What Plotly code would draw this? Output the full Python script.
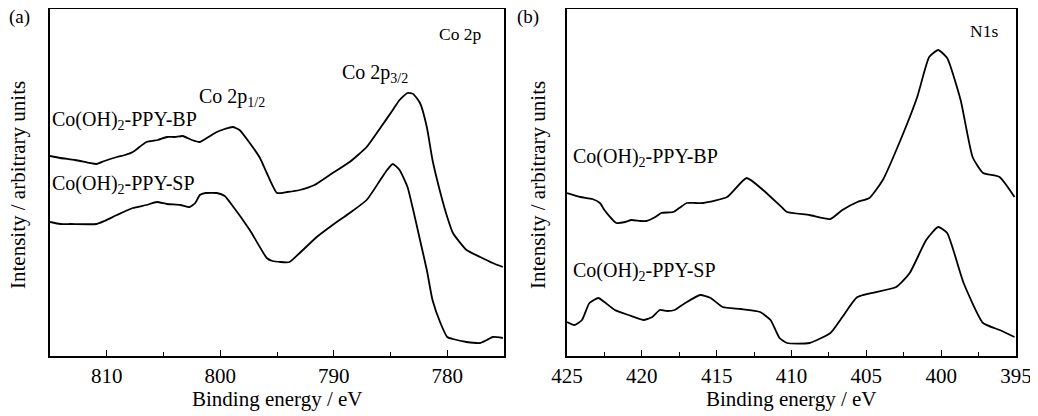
import plotly.graph_objects as go

# ---- data (binding energy in eV, intensity in arbitrary units) ----
co_energy_bp = [815.0, 814.1, 812.8, 811.5, 810.9, 810.2, 809.1, 808.4, 807.7, 806.5, 805.5, 804.7, 804.0,
                803.3, 802.5, 801.8, 800.9, 800.3, 799.6, 798.9, 798.3, 797.4, 796.5, 795.9, 795.0, 794.1,
                793.0, 791.7, 790.1, 788.6, 787.1, 785.9, 784.8, 784.2, 783.5, 783.0, 782.4, 781.8, 781.3,
                780.6, 780.0, 779.5, 778.3, 777.1, 776.0, 775.1]
co_int_bp = [200, 198, 196, 193, 192, 195, 199, 201, 204, 214, 216, 219, 219, 220, 216, 214, 220, 224, 227,
             229, 226, 213, 198, 183, 163, 164, 166, 171, 183, 194, 209, 228, 246, 256, 263, 262, 253, 229,
             196, 163, 139, 123, 106, 99, 93, 89]

co_energy_sp = [815.0, 814.1, 813.2, 810.9, 810.2, 809.1, 807.7, 806.5, 805.6, 804.7, 803.5, 802.7, 802.2,
                801.8, 801.3, 800.3, 799.6, 799.1, 797.4, 795.9, 795.4, 793.9, 793.0, 791.5, 790.1, 788.6,
                787.1, 785.9, 785.3, 784.8, 784.2, 783.5, 783.0, 782.4, 781.8, 781.3, 780.6, 780.0, 779.5,
                778.3, 777.1, 776.5, 776.0, 775.1]
co_int_sp = [134, 132, 132, 132, 135, 141, 148, 151, 154, 152, 151, 149, 153, 161, 163, 163, 160, 153, 126,
             98, 95, 94, 103, 119, 131, 143, 156, 176, 186, 192, 186, 169, 146, 116, 86, 56, 33, 19, 17,
             14, 13, 16, 19, 18]

n_energy_bp = [425.0, 424.1, 423.3, 422.8, 422.5, 422.0, 421.7, 421.1, 420.7, 420.1, 419.7, 419.1, 418.7,
               417.9, 417.5, 417.0, 416.4, 415.9, 414.3, 413.0, 411.9, 410.6, 410.3, 408.8, 407.4, 406.6,
               405.6, 404.8, 403.9, 402.8, 401.6, 400.8, 400.2, 399.6, 398.7, 397.9, 397.2, 396.1, 395.1]
n_int_bp = [163, 159, 157, 153, 146, 137, 133, 134, 136, 135, 135, 139, 143, 144, 148, 153, 153, 153, 159,
            178, 166, 148, 144, 141, 137, 146, 154, 158, 176, 213, 259, 299, 306, 298, 256, 199, 183, 179,
            159]

n_energy_sp = [425.0, 424.5, 424.0, 423.5, 422.9, 422.5, 421.8, 420.9, 419.9, 419.3, 418.8, 418.3, 417.8,
               417.1, 416.1, 415.4, 414.6, 413.4, 412.1, 411.4, 410.8, 410.3, 408.8, 407.4, 406.6, 405.6,
               403.0, 402.1, 401.0, 400.2, 399.6, 398.5, 397.2, 396.1, 395.1]
n_int_sp = [34, 31, 36, 53, 58, 54, 46, 41, 36, 39, 46, 45, 46, 53, 61, 58, 49, 47, 44, 36, 18, 13, 13,
            23, 39, 59, 69, 83, 116, 129, 123, 73, 33, 26, 19]

co_ticks = [810, 800, 790, 780]
n_ticks = [425, 420, 415, 410, 405, 400, 395]

# page body has an 8px margin: figure is drawn at (8, 8)
OFF = 8
W, H = 1030, 408
FONT = "Liberation Serif"

def px(x):
    return (x - OFF) / W

def py(y):
    return 1 - (y - OFF) / H

fig = go.Figure()
line = dict(color="black", width=1.8, shape="spline", smoothing=0.5)
fig.add_trace(go.Scatter(x=co_energy_bp, y=co_int_bp, mode="lines", line=line, xaxis="x", yaxis="y"))
fig.add_trace(go.Scatter(x=co_energy_sp, y=co_int_sp, mode="lines", line=line, xaxis="x", yaxis="y"))
fig.add_trace(go.Scatter(x=n_energy_bp, y=n_int_bp, mode="lines", line=line, xaxis="x2", yaxis="y2"))
fig.add_trace(go.Scatter(x=n_energy_sp, y=n_int_sp, mode="lines", line=line, xaxis="x2", yaxis="y2"))

xcommon = dict(showline=True, mirror=True, linecolor="black", linewidth=1.6, ticks="inside",
               ticklen=6, tickwidth=1.4, tickcolor="black", showgrid=False, zeroline=False,
               automargin=False, ticklabeloverflow="allow",
               tickfont=dict(family=FONT, size=21, color="black"))
ycommon = dict(showline=True, mirror=True, linecolor="black", linewidth=1.6, ticks="",
               showticklabels=False, showgrid=False, zeroline=False, automargin=False, range=[0, 347])

fig.update_layout(
    template="none",
    width=W, height=H, margin=dict(l=0, r=0, t=0, b=0, pad=0), autosize=False,
    paper_bgcolor="white", plot_bgcolor="white", showlegend=False,
    xaxis=dict(domain=[px(50), px(504)], range=[815, 775], tickvals=co_ticks,
               minor=dict(ticks="inside", ticklen=4, tickwidth=1.2, tickcolor="black", dtick=5,
                          tick0=805, showgrid=False),
               anchor="y", **xcommon),
    yaxis=dict(domain=[py(356), py(9)], anchor="x", **ycommon),
    xaxis2=dict(domain=[px(567), px(1016)], range=[425, 395], tickvals=n_ticks,
                minor=dict(ticks="inside", ticklen=4, tickwidth=1.2, tickcolor="black", dtick=2.5,
                           tick0=422.5, showgrid=False),
                anchor="y2", **xcommon),
    yaxis2=dict(domain=[py(356), py(9)], anchor="x2", **ycommon),
)

def ann(text, x, y, size=20, xanchor="center", angle=0):
    fig.add_annotation(text=text, x=px(x), y=py(y), xref="paper", yref="paper", showarrow=False,
                       xanchor=xanchor, yanchor="middle", textangle=angle, borderpad=0,
                       font=dict(family=FONT, size=size, color="black"))

ann("(a)", 19, 17, 19)
ann("(b)", 528, 17, 19)
ann("Co 2p", 460, 34, 17.5)
ann("Co 2p<sub>3/2</sub>", 375, 73, 20)
ann("Co 2p<sub>1/2</sub>", 232, 97, 20)
ann("Co(OH)<sub>2</sub>-PPY-BP", 51, 120, 20, xanchor="left")
ann("Co(OH)<sub>2</sub>-PPY-SP", 51, 184, 20, xanchor="left")
ann("N1s", 984, 31, 17.5)
ann("Co(OH)<sub>2</sub>-PPY-BP", 572, 157, 20, xanchor="left")
ann("Co(OH)<sub>2</sub>-PPY-SP", 572, 271, 20, xanchor="left")
ann("Binding energy / eV", 277, 399, 21)
ann("Binding energy / eV", 791, 399, 21)
ann("Intensity / arbitrary units", 18, 185, 21, angle=-90)
ann("Intensity / arbitrary units", 538, 185, 21, angle=-90)

fig.write_html("out.html")
